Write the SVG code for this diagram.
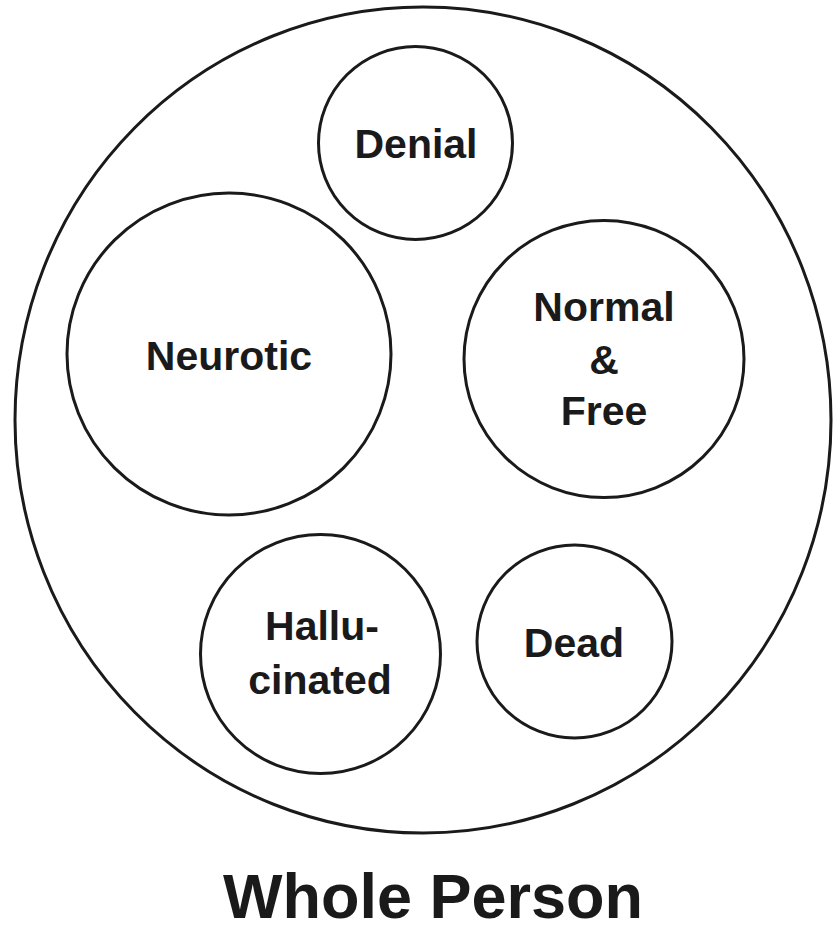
<svg xmlns="http://www.w3.org/2000/svg" width="834" height="932" viewBox="0 0 834 932">
<style>
.c{fill:none;stroke:#1a1a1a;stroke-width:3}
.t{font-family:"Liberation Sans",Arial,sans-serif;font-weight:bold;font-size:41px;fill:#1a1a1a;text-anchor:middle}
</style>
<rect width="834" height="932" fill="#fff"/>
<g id="whole-person">
<ellipse class="c" cx="423" cy="420" rx="408" ry="413"/>
<text class="t" x="433" y="918" style="font-size:63px">Whole Person</text>
</g>
<g id="denial">
<ellipse class="c" cx="415.5" cy="143" rx="97" ry="96.5"/>
<text class="t" x="416" y="158">Denial</text>
</g>
<g id="neurotic">
<ellipse class="c" cx="229" cy="354" rx="162" ry="161"/>
<text class="t" x="229" y="370">Neurotic</text>
</g>
<g id="normal-free">
<ellipse class="c" cx="604" cy="359" rx="140" ry="138.5"/>
<text class="t" x="604" y="321">Normal</text>
<text class="t" x="604" y="374">&amp;</text>
<text class="t" x="604" y="425">Free</text>
</g>
<g id="hallucinated">
<ellipse class="c" cx="320.5" cy="654" rx="120" ry="119.5"/>
<text class="t" x="322" y="640">Hallu-</text>
<text class="t" x="320" y="694">cinated</text>
</g>
<g id="dead">
<ellipse class="c" cx="574.5" cy="641.5" rx="97.5" ry="96.5"/>
<text class="t" x="574" y="657">Dead</text>
</g>
<g id="connectors"></g>
</svg>
